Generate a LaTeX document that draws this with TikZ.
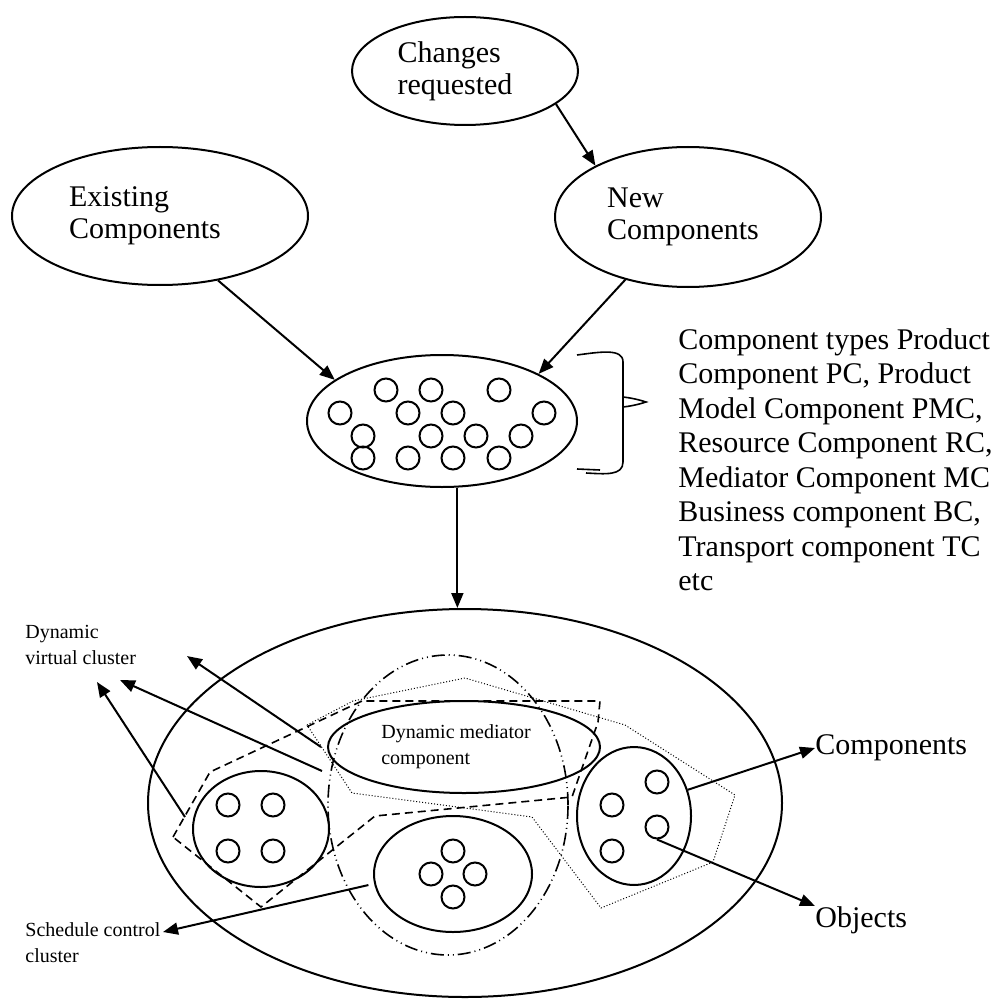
\documentclass[tikz,border=0pt]{standalone}
\usepackage{fontspec}
\setmainfont{Liberation Serif}
\usetikzlibrary{shapes.geometric,arrows.meta}

\tikzstyle{line} = [draw, line width=1pt]
\tikzstyle{arrow} = [line, -{Triangle[length=7.5pt,width=6pt]}]
\tikzstyle{blob} = [ellipse, draw, line width=1pt, inner sep=0pt]
\tikzstyle{obj} = [circle, draw, line width=1pt, minimum size=11.5pt, inner sep=0pt]
\tikzstyle{lbl} = [inner sep=0pt, align=left]
\tikzstyle{small} = [font=\fontsize{10}{13}\selectfont]
\tikzstyle{dashbox} = [draw, line width=0.8pt, dash pattern=on 4pt off 2.5pt]
\tikzstyle{dotbox} = [draw, line width=0.5pt, dash pattern=on 0.5pt off 1pt]
\tikzstyle{dashdotdot} = [draw, line width=0.8pt, dash pattern=on 6.5pt off 2pt on 0.5pt off 2pt on 0.5pt off 2pt]

\begin{document}
\begin{tikzpicture}[x=0.5pt,y=-0.5pt,font=\fontsize{15}{16}\selectfont]
\useasboundingbox (0,0) rectangle (997,1000);
%top ellipses
\node[blob,align=left,minimum width=113pt,minimum height=54pt] (chg) at (465,71) {Changes\\requested\hspace*{10pt}};
\node[blob,align=left,minimum width=148pt,minimum height=69pt] (exist) at (160,216) {Existing\\Components\hspace*{15pt}};
\node[blob,align=left,minimum width=133pt,minimum height=70pt] (new) at (688,217) {New\\Components\hspace*{5pt}};
\node[blob,minimum width=135pt,minimum height=66pt] (mid) at (442,421) {};

%components in the pool
\node[obj] (m1) at (386,390) {};
\node[obj] (m2) at (431,390) {};
\node[obj] (m3) at (499,390) {};
\node[obj] (m4) at (340,413) {};
\node[obj] (m5) at (408,413) {};
\node[obj] (m6) at (453,413) {};
\node[obj] (m7) at (544,413) {};
\node[obj] (m8) at (363,436) {};
\node[obj] (m9) at (431,436) {};
\node[obj] (m10) at (476,436) {};
\node[obj] (m11) at (521,436) {};
\node[obj] (m12) at (363,458) {};
\node[obj] (m13) at (408,458) {};
\node[obj] (m14) at (453,458) {};
\node[obj] (m15) at (499,458) {};

%arrows on top
\draw[arrow] (chg.-20) -- (new.151);
\draw[arrow] (exist.-48) -- (mid.159);
\draw[arrow] (new.-135) -- (mid.26);

%brace and types
\draw[line width=0.8pt] (577,355) .. controls (600,352) and (623,348) .. (623,362) -- (623,462) .. controls (623,476) and (605,474) .. (586,473);
\draw[line width=0.8pt] (623,397) .. controls (632,398) and (640,400) .. (646,402) .. controls (640,404) and (632,406) .. (623,407);% tip
\draw[line width=0.8pt] (577,469) -- (600,470);
\node[lbl,anchor=north west,font=\fontsize{15}{17.25}\selectfont] (types) at (678,328) {Component types Product\\Component PC, Product\\Model Component PMC,\\Resource Component RC,\\Mediator Component MC\\Business component BC,\\Transport component TC\\etc};

%cluster picture
\node[blob,minimum width=317pt,minimum height=194pt] (big) at (465,803) {};
\draw[arrow] (mid.-77) -- (mid.-77 |- big.north);
\draw[dashdotdot] (448,805) ellipse [x radius=60pt, y radius=75pt];
\draw[dashbox] (173,837) -- (210,772) -- (362,701) -- (600,701) -- (598,722) -- (572,797) -- (375,816) -- (261,907) -- cycle;
\draw[dotbox] (307,725) -- (353,701) -- (465,678) -- (625,725) -- (735,795) -- (713,862) -- (601,908) -- (532,817) -- (480,810) -- (352,793) -- cycle;
\node[blob,small,align=left,minimum width=136pt,minimum height=46pt] (med) at (464,747) {Dynamic mediator\hspace*{8pt}\\component};

\node[blob,minimum width=68pt,minimum height=58pt] (lc) at (261,829) {};
\node[obj] (l1) at (228,805) {};
\node[obj] (l2) at (273,805) {};
\node[obj] (l3) at (228,851) {};
\node[obj] (l4) at (273,851) {};

\node[blob,minimum width=79pt,minimum height=58pt] (bc) at (453,874) {};
\node[obj] (b1) at (453,851) {};
\node[obj] (b2) at (431,874) {};
\node[obj] (b3) at (475,874) {};
\node[obj] (b4) at (453,897) {};

\node[blob,minimum width=57pt,minimum height=69pt] (rc) at (634,816) {};
\node[obj] (r1) at (657,782) {};
\node[obj] (r2) at (612,805) {};
\node[obj] (r3) at (657,827) {};
\node[obj] (r4) at (612,851) {};

%labels
\node[lbl,small,anchor=north west] (dvc) at (25,625) {Dynamic\\virtual cluster};
\node[lbl,small,anchor=north west] (scc) at (25,922) {Schedule control\\cluster};
\node[lbl,anchor=west] (comp) at (815,748) {Components};
\node[lbl,anchor=west] (objs) at (815,920) {Objects};

\coordinate (tA) at (187,656);
\coordinate (sB) at (322,771);
\coordinate (tB) at (120,680);
\coordinate (sC) at (185,817);
\coordinate (tC) at (97,682);
\coordinate (tD) at (163,932);

%pointer arrows
\draw[arrow] ([xshift=-3pt]med.west) -- (tA);
\draw[arrow] (sB) -- (tB);
\draw[arrow] (sC) -- (tC);
\draw[arrow] ([xshift=-3pt]bc.188) -- (tD);
\draw[arrow] (rc.26) -- (comp.west);
\draw[arrow] (r3.south) -- (objs.north west);
\end{tikzpicture}
\end{document}
